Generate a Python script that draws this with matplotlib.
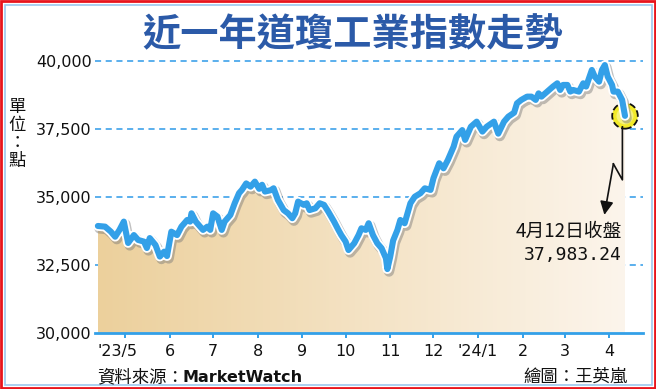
import matplotlib
matplotlib.use("Agg")
import matplotlib.pyplot as plt
import matplotlib.patheffects as pe
import matplotlib.dates as mdates
from matplotlib.patches import Rectangle, FancyArrowPatch, Polygon
from matplotlib.transforms import IdentityTransform, ScaledTranslation
import numpy as np
import pandas as pd

# ---------------- data ----------------
dates = [
    "2023-04-12", "2023-04-17", "2023-04-21", "2023-04-24", "2023-04-27", "2023-04-30",
    "2023-05-03", "2023-05-07", "2023-05-10", "2023-05-14", "2023-05-16", "2023-05-18",
    "2023-05-22", "2023-05-25", "2023-05-28", "2023-05-30",
    "2023-06-02", "2023-06-06", "2023-06-09", "2023-06-13", "2023-06-15", "2023-06-16",
    "2023-06-19", "2023-06-22", "2023-06-24", "2023-06-27", "2023-06-29",
    "2023-07-01", "2023-07-04", "2023-07-07", "2023-07-09", "2023-07-13", "2023-07-16",
    "2023-07-19", "2023-07-21", "2023-07-24", "2023-07-27", "2023-07-30",
    "2023-08-02", "2023-08-04", "2023-08-06", "2023-08-10", "2023-08-12", "2023-08-15",
    "2023-08-19", "2023-08-22", "2023-08-25", "2023-08-27", "2023-08-29",
    "2023-09-02", "2023-09-04", "2023-09-06", "2023-09-10", "2023-09-13", "2023-09-16",
    "2023-09-19", "2023-09-23", "2023-09-26", "2023-09-28",
    "2023-10-01", "2023-10-03", "2023-10-07", "2023-10-10", "2023-10-12", "2023-10-15",
    "2023-10-17", "2023-10-20", "2023-10-23", "2023-10-26", "2023-10-29", "2023-10-30",
    "2023-11-01", "2023-11-03", "2023-11-06", "2023-11-08", "2023-11-11", "2023-11-15",
    "2023-11-18", "2023-11-22", "2023-11-25", "2023-11-29",
    "2023-12-01", "2023-12-05", "2023-12-08", "2023-12-11", "2023-12-15", "2023-12-17",
    "2023-12-21", "2023-12-23", "2023-12-27", "2023-12-31",
    "2024-01-04", "2024-01-07", "2024-01-12", "2024-01-15", "2024-01-19", "2024-01-22",
    "2024-01-26", "2024-01-28", "2024-01-31",
    "2024-02-04", "2024-02-07", "2024-02-10", "2024-02-12", "2024-02-14", "2024-02-18",
    "2024-02-22", "2024-02-25", "2024-02-27", "2024-02-29",
    "2024-03-03", "2024-03-05", "2024-03-07", "2024-03-11", "2024-03-14", "2024-03-16",
    "2024-03-20", "2024-03-22", "2024-03-25", "2024-03-27", "2024-03-29", "2024-03-31",
    "2024-04-03", "2024-04-04", "2024-04-07", "2024-04-10", "2024-04-12",
]
values = [
    33935, 33910, 33726, 33540, 33790, 34095,
    33310, 33600, 33420, 33360, 33125, 33490,
    33235, 32810, 32990, 32830,
    33725, 33600, 33910, 34155, 34095, 34400,
    34095, 33910, 33790, 33910, 33790,
    34400, 34280, 33790, 34095, 34340, 34770,
    35140, 35260, 35500, 35380, 35565,
    35300, 35450, 35200, 35250, 35320, 34890,
    34520, 34400, 34220, 34400, 34830,
    34710, 34770, 34520, 34585, 34770, 34710,
    34460, 34095, 33790, 33600,
    33360, 33050, 33300, 33600, 33850, 33790,
    34035, 33600, 33300, 33115, 32750, 32350,
    32810, 33400, 33790, 34155, 34035, 34770,
    35010, 35140, 35320, 35260,
    35690, 36240, 36055, 36360, 36850, 37220,
    37460, 37100, 37585, 37770,
    37405, 37585, 37770, 37330, 37770, 37955,
    38100, 38445, 38570,
    38690, 38690, 38570, 38810, 38690, 38875,
    39060, 39180, 38935, 39120,
    39120, 38875, 38935, 38875, 39180, 39060,
    39670, 39425, 39240, 39670, 39850, 39425,
    39120, 38875, 38875, 38570, 37983.24,
]
month_ticks = ["2023-05-01", "2023-06-01", "2023-07-01", "2023-08-01", "2023-09-01",
               "2023-10-01", "2023-11-01", "2023-12-01", "2024-01-01", "2024-02-01",
               "2024-03-01", "2024-04-01"]
month_labels = ["'23/5", "6", "7", "8", "9", "10", "11", "12", "'24/1", "2", "3", "4"]
y_ticks = [30000, 32500, 35000, 37500, 40000]
y_grid = [32500, 35000, 37500, 40000]

title = "近一年道瓊工業指數走勢"
unit_label = "單\n位\n：\n點"
source_label = "資料來源："
source_name = "MarketWatch"
credit_label = "繪圖：王英嵐"
close_label = "4月12日收盤"

# ---------------- styling ----------------
W, H = 656, 389
DPI = 100
BLUE = "#33a0e8"
GRID = "#2e9ae8"
TITLE_C = "#2b5aa8"
CJK = ["Noto Sans CJK TC", "DejaVu Sans"]

x = pd.to_datetime(dates)
xnum = mdates.date2num(x)
y = np.array(values, dtype=float)

fig = plt.figure(figsize=(W / DPI, H / DPI), dpi=DPI)
fig.patch.set_facecolor("white")

# axes placement: left 95px, right 643px, y=40000 at 61px, y=30000 at 333px
ax_l, ax_r, ax_t, ax_b = 95, 643, 61, 333
ax = fig.add_axes([ax_l / W, 1 - ax_b / H, (ax_r - ax_l) / W, (ax_b - ax_t) / H])
ax.set_facecolor("none")

x0 = mdates.date2num(pd.Timestamp("2023-04-10 00:00"))
x1 = mdates.date2num(pd.Timestamp("2024-04-24 12:00"))
ax.set_xlim(x0, x1)
ax.set_ylim(30000, 40000)

for s in ["left", "right", "top"]:
    ax.spines[s].set_visible(False)
ax.spines["bottom"].set_color(BLUE)
ax.spines["bottom"].set_linewidth(2.0)
ax.spines["bottom"].set_zorder(6)

# dashed gridlines (behind fill)
for g in y_grid:
    ax.axhline(g, color=GRID, lw=1.1, ls=(0, (4, 3)), zorder=1, clip_on=False)

# gradient fill under the curve
grad = np.linspace(0, 1, 256)
c_left = np.array([236, 208, 156]) / 255.0
c_right = np.array([252, 245, 236]) / 255.0
img = c_left[None, :] * (1 - grad[:, None]) + c_right[None, :] * grad[:, None]
img = img[None, :, :]
im = ax.imshow(img, extent=[xnum[0], xnum[-1], 30000, 40000], aspect="auto",
               zorder=2, interpolation="bilinear")
poly = Polygon(np.column_stack([np.r_[xnum[0], xnum, xnum[-1]],
                                np.r_[30000, y, 30000]]),
               closed=True, transform=ax.transData, facecolor="none", edgecolor="none")
ax.add_patch(poly)
im.set_clip_path(poly)
ax.set_xlim(x0, x1)
ax.set_ylim(30000, 40000)

# end-point highlight circle
ax.scatter([xnum[-1]], [y[-1]], s=340, facecolor="#f2ea2a", edgecolor="#111111",
           linewidths=1.3, linestyles="--", zorder=3, clip_on=False)
ax.scatter([xnum[-1]], [y[-1]], s=150, facecolor="#f6f27a", edgecolor="none",
           zorder=3, clip_on=False)

# the index line
ax.plot(xnum, y, color=BLUE, lw=4.4, solid_joinstyle="round", solid_capstyle="round",
        zorder=4, clip_on=False,
        path_effects=[pe.SimpleLineShadow(offset=(1.2, -1.8), shadow_color="#777777",
                                          alpha=0.45, linewidth=7.4),
                      pe.Stroke(linewidth=7.0, foreground="white"),
                      pe.Normal()])

# ticks
ax.set_yticks(y_ticks)
ax.set_yticklabels([f"{v:,}" for v in y_ticks])
ax.tick_params(axis="y", length=0, pad=2.5, labelsize=11.5, labelcolor="#111111")
ax.set_xticks(mdates.date2num(pd.to_datetime(month_ticks)))
ax.set_xticklabels(month_labels)
ax.tick_params(axis="x", direction="out", length=3.5, width=1.4, color=BLUE,
               pad=4.5, labelsize=11.5, labelcolor="#111111")
lbl0 = ax.get_xticklabels()[0]
lbl0.set_transform(lbl0.get_transform() + ScaledTranslation(-8 / DPI, 0, fig.dpi_scale_trans))

# title
fig.text(353 / W, 1 - 35 / H, title, ha="center", va="center", fontsize=27.5,
         fontweight="bold", color=TITLE_C, family=CJK)

# unit label (vertical)
fig.text(17.5 / W, 1 - 134 / H, unit_label, ha="center", va="center", fontsize=12.5,
         color="#111111", family=CJK, linespacing=1.0)

# footer
fig.text(97 / W, 1 - 377 / H, source_label, ha="left", va="center", fontsize=12.5,
         color="#111111", family=CJK)
fig.text(182 / W, 1 - 377 / H, source_name, ha="left", va="center", fontsize=11.5,
         fontweight="bold", color="#111111", family=["DejaVu Sans"])
fig.text(628 / W, 1 - 377 / H, credit_label, ha="right", va="center", fontsize=12.5,
         color="#111111", family=CJK)

# annotation text
fig.text(622 / W, 1 - 231 / H, close_label, ha="right", va="center", fontsize=13.5,
         color="#111111", family=CJK)
fig.text(622 / W, 1 - 255 / H, f"{values[-1]:,.2f}", ha="right", va="center",
         fontsize=13, color="#111111", family=["DejaVu Sans Mono"])

# zig-zag arrow anchored to the last data point
ex, ey = ax.transData.transform((xnum[-1], y[-1]))  # display px, y up
offs = [(-2.6, -11), (-2.6, -64), (-11.6, -48)]
pts = [(ex + dx, ey + dy) for dx, dy in offs]
fig.add_artist(plt.Line2D([p[0] for p in pts], [p[1] for p in pts], color="#111111",
                          lw=1.2, transform=IdentityTransform()))
tip = (ex - 20.6, ey - 99)
fig.add_artist(FancyArrowPatch(pts[-1], tip, transform=IdentityTransform(),
                               arrowstyle="-|>,head_length=8,head_width=4",
                               color="#111111", lw=1.2, mutation_scale=1,
                               shrinkA=0, shrinkB=0))

# borders
fig.add_artist(Rectangle((1 / W, 1 / H), (W - 2) / W, (H - 2) / H, transform=fig.transFigure,
                         fill=False, edgecolor="#e8141c", lw=2.0))
fig.add_artist(Rectangle((4.5 / W, 4.5 / H), (W - 9) / W, (H - 9) / H,
                         transform=fig.transFigure, fill=False, edgecolor="#9cc8ee", lw=1.2))

fig.savefig("out.png", dpi=DPI)
